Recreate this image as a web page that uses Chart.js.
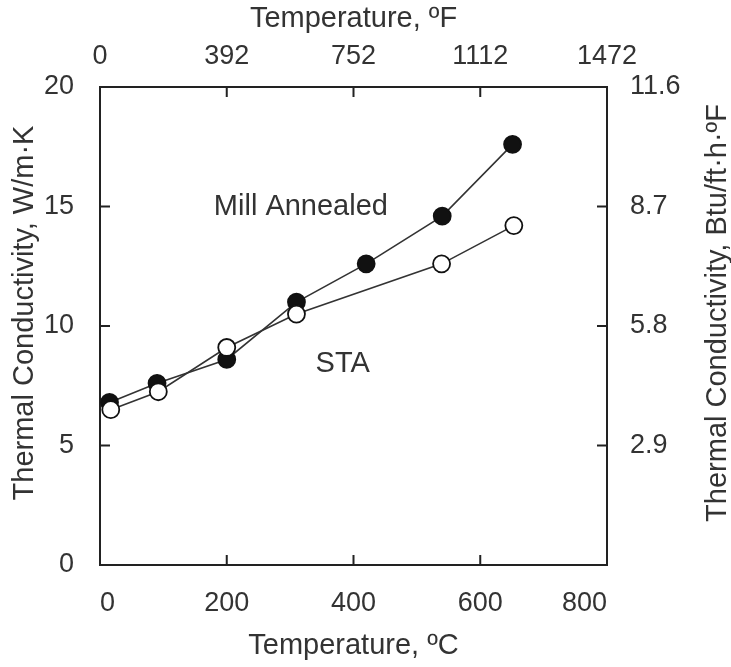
<!DOCTYPE html>
<html lang="en">
<head>
<meta charset="UTF-8">
<title>Thermal Conductivity vs Temperature</title>
<script src="https://cdn.jsdelivr.net/npm/chart.js"></script>
<style>
  html, body { margin: 0; padding: 0; background: #fff; }
  #wrap { width: 731px; height: 667px; }
</style>
</head>
<body>
<div id="wrap"><canvas id="chart"></canvas></div>
<script>
// values: temperature in degC, conductivity in W/m.K
const millTemps = [15, 90, 200, 310, 420, 540, 651];
const millK = [6.8, 7.6, 8.6, 11.0, 12.6, 14.6, 17.6];
const staTemps = [17, 92, 200, 310, 539, 653];
const staK = [6.5, 7.25, 9.1, 10.5, 12.6, 14.2];

const cTicks = [0, 200, 400, 600, 800];
const fTickLabels = ['0', '392', '752', '1112', '1472'];
const kTicks = [0, 5, 10, 15, 20];
const btuTicks = [2.9, 5.8, 8.7, 11.6];

const notes = [
  { text: 'Mill Annealed', x: 317, y: 15.0 },
  { text: 'STA', x: 383, y: 8.4 }
];

const leftTitle = 'Thermal Conductivity, W/m·K';
const rightTitle = 'Thermal Conductivity, Btu/ft·h·ºF';

const FONT = 'Liberation Sans, Arial, sans-serif';
const INK = '#333';
const EDGE = '#222';

function toPoints(xs, ys) {
  return xs.map((x, i) => ({ x: x, y: ys[i] }));
}

// tick marks pointing into the plot, like the original figure
const inwardTicks = {
  id: 'inwardTicks',
  afterDatasetsDraw(chart) {
    const ctx = chart.ctx;
    const a = chart.chartArea;
    const len = 10;
    ctx.save();
    ctx.strokeStyle = EDGE;
    ctx.lineWidth = 2;
    ctx.beginPath();
    ['x', 'x2'].forEach(id => {
      const s = chart.scales[id];
      s.ticks.forEach(t => {
        const px = s.getPixelForValue(t.value);
        if (px <= a.left + 1 || px >= a.right - 1) return;
        const y0 = id === 'x' ? a.bottom : a.top;
        const y1 = id === 'x' ? a.bottom - len : a.top + len;
        ctx.moveTo(px, y0);
        ctx.lineTo(px, y1);
      });
    });
    ['y', 'y2'].forEach(id => {
      const s = chart.scales[id];
      s.ticks.forEach(t => {
        const py = s.getPixelForValue(t.value);
        if (py <= a.top + 1 || py >= a.bottom - 1) return;
        const x0 = id === 'y' ? a.left : a.right;
        const x1 = id === 'y' ? a.left + len : a.right - len;
        ctx.moveTo(x0, py);
        ctx.lineTo(x1, py);
      });
    });
    ctx.stroke();
    ctx.restore();
  }
};

// series names inside the plot + both vertical titles (both read bottom-to-top)
const textBits = {
  id: 'textBits',
  afterDatasetsDraw(chart) {
    const ctx = chart.ctx;
    const a = chart.chartArea;
    const sx = chart.scales.x;
    const sy = chart.scales.y;
    ctx.save();
    ctx.font = '29px ' + FONT;
    ctx.fillStyle = INK;
    ctx.textAlign = 'center';
    ctx.textBaseline = 'middle';
    notes.forEach(n => {
      ctx.fillText(n.text, sx.getPixelForValue(n.x), sy.getPixelForValue(n.y));
    });
    const cy = (a.top + a.bottom) / 2 - 13;
    [[25, leftTitle], [718, rightTitle]].forEach(([tx, txt]) => {
      ctx.save();
      ctx.translate(tx, cy);
      ctx.rotate(-Math.PI / 2);
      ctx.fillText(txt, 0, 0);
      ctx.restore();
    });
    ctx.restore();
  }
};

const tickFont = { family: FONT, size: 27 };
const titleFont = { family: FONT, size: 29, lineHeight: 1 };
const border = { display: true, color: EDGE, width: 2 };

new Chart(document.getElementById('chart'), {
  type: 'scatter',
  data: {
    datasets: [
      {
        label: 'STA',
        data: toPoints(staTemps, staK),
        showLine: true,
        borderColor: INK,
        borderWidth: 1.6,
        pointRadius: 8.5,
        pointBackgroundColor: '#fff',
        pointBorderColor: '#111',
        pointBorderWidth: 1.8
      },
      {
        label: 'Mill Annealed',
        data: toPoints(millTemps, millK),
        showLine: true,
        borderColor: INK,
        borderWidth: 1.6,
        pointRadius: 8.5,
        pointBackgroundColor: '#111',
        pointBorderColor: '#111',
        pointBorderWidth: 1.8
      }
    ]
  },
  options: {
    responsive: true,
    maintainAspectRatio: false,
    animation: false,
    layout: { padding: 0 },
    plugins: {
      legend: { display: false },
      tooltip: { enabled: false }
    },
    scales: {
      x: {
        type: 'linear',
        position: 'bottom',
        min: 0,
        max: 800,
        afterBuildTicks: s => { s.ticks = cTicks.map(v => ({ value: v })); },
        afterFit: s => { s.height = 102; },
        grid: { display: false },
        border: border,
        ticks: { font: tickFont, color: INK, padding: 14, autoSkip: false, maxRotation: 0, align: 'inner' },
        title: { display: true, text: 'Temperature, ºC', font: titleFont, color: INK, padding: { top: 0, bottom: 7 } }
      },
      x2: {
        type: 'linear',
        position: 'top',
        min: 0,
        max: 800,
        afterBuildTicks: s => { s.ticks = cTicks.map(v => ({ value: v })); },
        afterFit: s => { s.height = 87; },
        grid: { display: false },
        border: border,
        ticks: {
          font: tickFont, color: INK, padding: 6, autoSkip: false, maxRotation: 0,
          callback: (v, i) => fTickLabels[i]
        },
        title: { display: true, text: 'Temperature, ºF', font: titleFont, color: INK, padding: { top: 4, bottom: 0 } }
      },
      y: {
        type: 'linear',
        position: 'left',
        min: 0,
        max: 20,
        afterBuildTicks: s => { s.ticks = kTicks.map(v => ({ value: v })); },
        afterFit: s => { s.width = 100; },
        grid: { display: false },
        border: border,
        ticks: { font: tickFont, color: INK, padding: 18 }
      },
      y2: {
        type: 'linear',
        position: 'right',
        min: 0,
        max: 11.6,
        afterBuildTicks: s => { s.ticks = btuTicks.map(v => ({ value: v })); },
        afterFit: s => { s.width = 124; },
        grid: { display: false },
        border: border,
        ticks: { font: tickFont, color: INK, padding: 15, callback: v => v.toFixed(1) }
      }
    }
  },
  plugins: [inwardTicks, textBits]
});
</script>
</body>
</html>
